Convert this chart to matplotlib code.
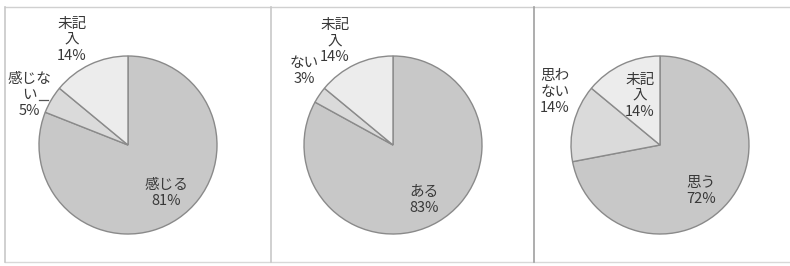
import matplotlib
matplotlib.use("Agg")
import matplotlib.pyplot as plt

plt.rcParams['font.family'] = ['Noto Sans CJK JP', 'DejaVu Sans']

# data
pie1_names = ['感じる', '感じな\nい', '未記\n入']
pie1_values = [81, 5, 14]
pie2_names = ['ある', 'ない', '未記\n入']
pie2_values = [83, 3, 14]
pie3_names = ['思う', '思わ\nない', '未記\n入']
pie3_values = [72, 14, 14]

slice_colors = ['#c8c8c8', '#dadada', '#ececec']
text_color = '#383838'

W, H = 790, 266
fig = plt.figure(figsize=(W / 100, H / 100), dpi=100)
ax = fig.add_axes([0, 0, 1, 1])

# panel frames
ax.plot([5, W], [7, 7], color='#d0d0d0', lw=1)
ax.plot([5, W], [262, 262], color='#d8d8d8', lw=1)
for x, c in [(5, '#c8c8c8'), (271, '#c8c8c8'), (534, '#a0a0a0')]:
    ax.plot([x, x], [7, 262], color=c, lw=1.2)

# pie centres / radius in pixels (y down)
centres = [(128, 145), (393, 145), (660, 145)]
radius = 89

# label positions per slice (pixel coords)
label_pos = [
    [(166, 193), (29, 95), (72, 40)],
    [(424, 200), (304, 71), (335, 41)],
    [(701, 191), (555, 92), (640, 96)],
]

for (cx, cy), names, values, lpos in zip(
        centres, [pie1_names, pie2_names, pie3_names],
        [pie1_values, pie2_values, pie3_values], label_pos):
    # y axis is inverted, so counterclock=True draws clockwise on screen
    ax.pie(values, center=(cx, cy), radius=radius, startangle=-90,
           counterclock=True, colors=slice_colors,
           wedgeprops=dict(edgecolor='#8a8a8a', linewidth=1.0),
           frame=True)
    for name, v, (tx, ty) in zip(names, values, lpos):
        ax.text(tx, ty, f'{name}\n{v}%', ha='center', va='center',
                multialignment='center', fontsize=10.5, color=text_color,
                linespacing=1.15)

# short leader line on first pie
ax.plot([39, 48], [100, 100], color='#555555', lw=0.9)

ax.set_xlim(0, W)
ax.set_ylim(H, 0)
ax.axis('off')
ax.set_aspect('auto')

fig.savefig('out.png', dpi=100, facecolor='white')
